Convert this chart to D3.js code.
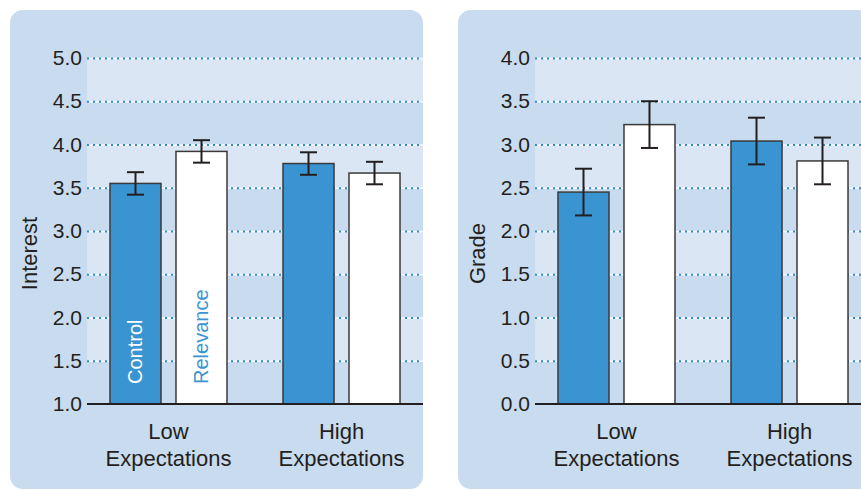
<!DOCTYPE html>
<html>
<head>
<meta charset="utf-8">
<script src="https://cdn.jsdelivr.net/npm/d3@7"></script>
<style>
html,body{margin:0;padding:0;background:#fff;}
svg{display:block;font-family:"Liberation Sans",Arial,Helvetica,sans-serif;}
</style>
</head>
<body>
<svg id="chart" width="861" height="490"></svg>
<script>
const groups = ["Low|Expectations", "High|Expectations"];
const series = ["Control", "Relevance"];

const interestValues = [[3.55, 3.92], [3.78, 3.67]];
const interestErrors = [[0.13, 0.13], [0.13, 0.13]];
const interestTicks = [1.0, 1.5, 2.0, 2.5, 3.0, 3.5, 4.0, 4.5, 5.0];

const gradeValues = [[2.45, 3.23], [3.04, 2.81]];
const gradeErrors = [[0.27, 0.27], [0.27, 0.27]];
const gradeTicks = [0.0, 0.5, 1.0, 1.5, 2.0, 2.5, 3.0, 3.5, 4.0];

const panels = [
  {title: "Interest", values: interestValues, errors: interestErrors, ticks: interestTicks, domain: [1, 5], offset: 0},
  {title: "Grade", values: gradeValues, errors: gradeErrors, ticks: gradeTicks, domain: [0, 4], offset: 448}
];

const colors = {Control: "#3a94d2", Relevance: "#ffffff"};
const svg = d3.select("#chart");

panels.forEach(p => {
  const g = svg.append("g").attr("transform", `translate(${p.offset},0)`);
  const plotLeft = 87, plotRight = 423, top = 58, bottom = 404;

  g.append("rect").attr("x", 10).attr("y", 10).attr("width", 413).attr("height", 479)
    .attr("rx", 13).attr("ry", 13).attr("fill", "#c9dbef");

  const y = d3.scaleLinear().domain(p.domain).range([bottom, top]);

  for (let i = 0; i < p.ticks.length - 1; i++) {
    if ((p.ticks.length - 2 - i) % 2 === 0) {
      g.append("rect").attr("x", plotLeft).attr("width", plotRight - plotLeft)
        .attr("y", y(p.ticks[i + 1])).attr("height", y(p.ticks[i]) - y(p.ticks[i + 1]))
        .attr("fill", "#dae6f4");
    }
  }

  const grid = g.append("g");
  p.ticks.slice(1).forEach(t => {
    grid.append("line").attr("x1", plotLeft).attr("x2", plotRight)
      .attr("y1", y(t) + 0.5).attr("y2", y(t) + 0.5)
      .attr("stroke", "#ffffff").attr("stroke-width", 1.5).attr("opacity", 0.9);
    grid.append("line").attr("x1", plotLeft).attr("x2", plotRight)
      .attr("y1", y(t) + 0.5).attr("y2", y(t) + 0.5)
      .attr("stroke", "#2f8bd0").attr("stroke-width", 2).attr("stroke-dasharray", "2,4");
  });

  const yAxis = d3.axisLeft(y).tickValues(p.ticks).tickFormat(d3.format(".1f")).tickSize(0).tickPadding(5);
  const ya = g.append("g").attr("transform", `translate(${plotLeft},0)`).call(yAxis);
  ya.select(".domain").remove();
  ya.attr("font-size", null).attr("font-family", null);
  ya.selectAll("text").attr("font-size", 21).attr("fill", "#231f20");

  const x0 = d3.scaleBand().domain(groups).range([82, 428]).paddingInner(0.3237).paddingOuter(0.1618);
  const x1 = d3.scaleBand().domain(series).range([0, x0.bandwidth()]).paddingInner(0.227);

  groups.forEach((grp, gi) => {
    series.forEach((s, si) => {
      const v = p.values[gi][si], e = p.errors[gi][si];
      const bx = x0(grp) + x1(s);
      g.append("rect").attr("x", bx).attr("y", y(v))
        .attr("width", x1.bandwidth()).attr("height", y(p.domain[0]) - y(v))
        .attr("fill", colors[s]).attr("stroke", "#3a3a3a").attr("stroke-width", 1.5);
      const cx = bx + x1.bandwidth() / 2;
      const eb = g.append("g").attr("stroke", "#231f20").attr("stroke-width", 2).attr("fill", "none");
      eb.append("line").attr("x1", cx).attr("x2", cx).attr("y1", y(v + e)).attr("y2", y(v - e));
      eb.append("line").attr("x1", cx - 8.5).attr("x2", cx + 8.5).attr("y1", y(v + e)).attr("y2", y(v + e));
      eb.append("line").attr("x1", cx - 8.5).attr("x2", cx + 8.5).attr("y1", y(v - e)).attr("y2", y(v - e));

      if (p.title === "Interest" && gi === 0) {
        g.append("text").attr("transform", `translate(${cx + 7},${384}) rotate(-90)`)
          .attr("font-size", 20).attr("fill", s === "Control" ? "#ffffff" : "#3a94d2")
          .text(s);
      }
    });
    const lines = grp.split("|");
    const cxg = x0(grp) + x0.bandwidth() / 2;
    lines.forEach((ln, li) => {
      g.append("text").attr("x", cxg).attr("y", 439 + li * 27).attr("text-anchor", "middle")
        .attr("font-size", 22).attr("fill", "#231f20").text(ln);
    });
  });

  g.append("line").attr("x1", plotLeft).attr("x2", plotRight)
    .attr("y1", bottom).attr("y2", bottom).attr("stroke", "#231f20").attr("stroke-width", 2);

  g.append("text").attr("transform", `translate(${37},${253.5}) rotate(-90)`)
    .attr("text-anchor", "middle").attr("font-size", 22).attr("fill", "#231f20").text(p.title);
});
</script>
</body>
</html>
